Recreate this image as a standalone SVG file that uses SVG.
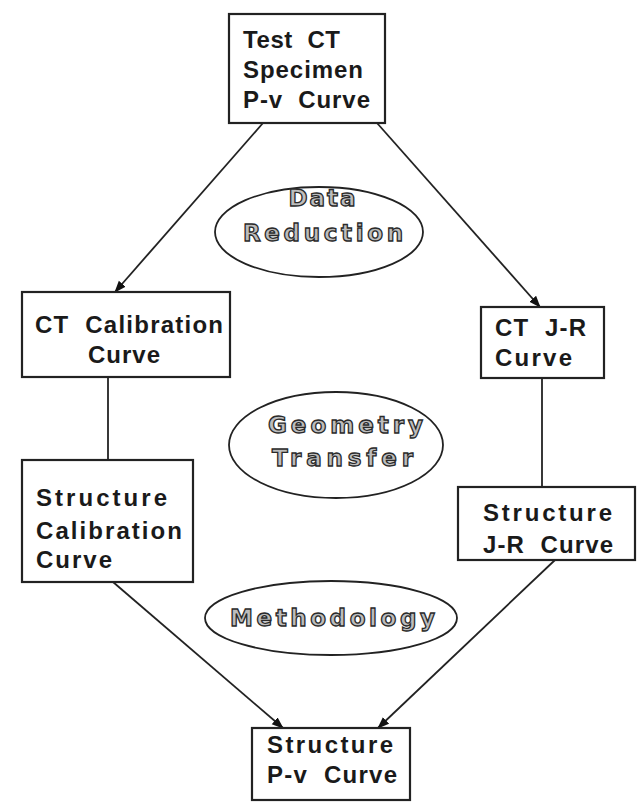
<svg xmlns="http://www.w3.org/2000/svg" width="638" height="802" viewBox="0 0 638 802">
<defs>
<marker id="ah" markerWidth="12" markerHeight="10" refX="11" refY="5" orient="auto" markerUnits="userSpaceOnUse">
<path d="M0,0.5 L12,5 L0,9.5 Z" fill="#111"/>
</marker>
<style>
.box{fill:#fff;stroke:#222;stroke-width:2.2}
.ell{fill:#fff;stroke:#222;stroke-width:1.8}
.t{font-family:"Liberation Sans",Arial,sans-serif;font-weight:bold;font-size:24px;fill:#1a1a1a}
.o{font-family:"DejaVu Sans","Liberation Sans",sans-serif;font-weight:bold;font-size:23px;fill:#bdbdbd;stroke:#2a2a2a;stroke-width:1.3}
.c{fill:none;stroke:#222;stroke-width:1.8}
</style>
</defs>
<rect width="638" height="802" fill="#fff"/>
<g id="connectors">
<line class="c" x1="263" y1="123" x2="115" y2="292" marker-end="url(#ah)"/>
<line class="c" x1="377" y1="123" x2="540" y2="307" marker-end="url(#ah)"/>
<line class="c" x1="108" y1="377" x2="108" y2="460"/>
<line class="c" x1="542" y1="378" x2="542" y2="487"/>
<line class="c" x1="113" y1="582" x2="283" y2="728" marker-end="url(#ah)"/>
<line class="c" x1="555" y1="560" x2="378" y2="728" marker-end="url(#ah)"/>
</g>
<g id="test-ct">
<rect class="box" x="229" y="14" width="156" height="109"/>
<text class="t" x="243" y="48" textLength="97" lengthAdjust="spacing" xml:space="preserve">Test  CT</text>
<text class="t" x="243" y="78" textLength="120" lengthAdjust="spacing">Specimen</text>
<text class="t" x="243" y="108" textLength="127" lengthAdjust="spacing" xml:space="preserve">P-v  Curve</text>
</g>
<g id="data-reduction">
<ellipse class="ell" cx="319" cy="232" rx="104" ry="45"/>
<text class="o" x="323" y="206" text-anchor="middle" letter-spacing="2">Data</text>
<text class="o" x="243" y="241" textLength="160" lengthAdjust="spacing">Reduction</text>
</g>
<g id="ct-calibration">
<rect class="box" x="22" y="292" width="208" height="85"/>
<text class="t" x="35" y="333" textLength="188" lengthAdjust="spacing" xml:space="preserve">CT  Calibration</text>
<text class="t" x="88" y="363" textLength="72" lengthAdjust="spacing">Curve</text>
</g>
<g id="ct-jr">
<rect class="box" x="481" y="307" width="123" height="71"/>
<text class="t" x="495" y="336" textLength="91" lengthAdjust="spacing" xml:space="preserve">CT  J-R</text>
<text class="t" x="495" y="366" textLength="77" lengthAdjust="spacing">Curve</text>
</g>
<g id="geometry-transfer">
<ellipse class="ell" cx="336" cy="445" rx="107" ry="53"/>
<text class="o" x="268" y="433" textLength="155" lengthAdjust="spacing">Geometry</text>
<text class="o" x="272" y="466" textLength="141" lengthAdjust="spacing">Transfer</text>
</g>
<g id="structure-calibration">
<rect class="box" x="22" y="460" width="171" height="122"/>
<text class="t" x="36" y="506" textLength="131" lengthAdjust="spacing">Structure</text>
<text class="t" x="36" y="539" textLength="146" lengthAdjust="spacing">Calibration</text>
<text class="t" x="36" y="568" textLength="76" lengthAdjust="spacing">Curve</text>
</g>
<g id="structure-jr">
<rect class="box" x="458" y="487" width="177" height="73"/>
<text class="t" x="483" y="521" textLength="129" lengthAdjust="spacing">Structure</text>
<text class="t" x="483" y="553" textLength="130" lengthAdjust="spacing" xml:space="preserve">J-R  Curve</text>
</g>
<g id="methodology">
<ellipse class="ell" cx="331" cy="618" rx="126" ry="37"/>
<text class="o" x="230" y="626" textLength="205" lengthAdjust="spacing">Methodology</text>
</g>
<g id="structure-pv">
<rect class="box" x="252" y="728" width="158" height="72"/>
<text class="t" x="267" y="753" textLength="126" lengthAdjust="spacing">Structure</text>
<text class="t" x="267" y="783" textLength="130" lengthAdjust="spacing" xml:space="preserve">P-v  Curve</text>
</g>
</svg>
